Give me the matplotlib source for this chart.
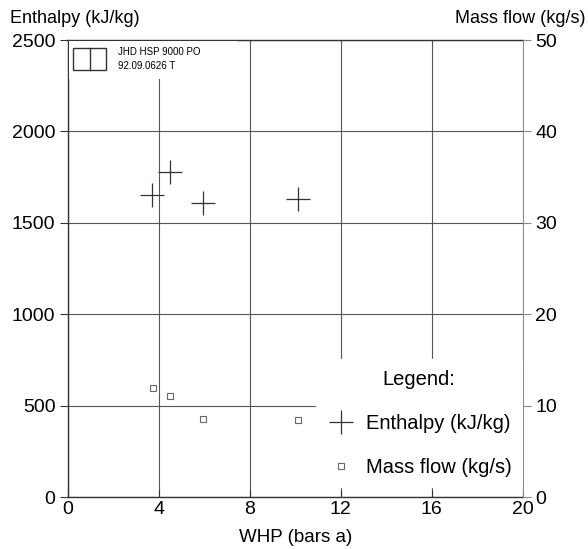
import matplotlib.pyplot as plt
from matplotlib.patches import Rectangle

plt.rcParams['font.family'] = ['Liberation Sans', 'DejaVu Sans']

# data
whp_h = [3.7, 4.5, 5.95, 10.1]
enthalpy = [1650, 1780, 1610, 1630]
whp_m = [3.75, 4.5, 5.95, 10.1]
mass_flow = [11.9, 11.0, 8.5, 8.4]

x_ticks = [0, 4, 8, 12, 16, 20]
h_ticks = [0, 500, 1000, 1500, 2000, 2500]
m_ticks = [0, 10, 20, 30, 40, 50]

fig = plt.figure(figsize=(5.88, 5.49), dpi=100)
ax = fig.add_axes([0.1156, 0.0947, 0.7735, 0.8323])
ax2 = ax.twinx()

ax.set_xlim(0, 20)
ax.set_ylim(0, 2500)
ax2.set_ylim(0, 50)
ax.set_xticks(x_ticks)
ax.set_yticks(h_ticks)
ax2.set_yticks(m_ticks)

for sp in ['left', 'bottom', 'top']:
    ax.spines[sp].set_color('#333333')
    ax.spines[sp].set_linewidth(1.0)
ax.spines['right'].set_visible(False)
for sp in ax2.spines.values():
    sp.set_visible(False)
ax2.spines['right'].set_visible(True)
ax2.spines['right'].set_color('#888888')
ax2.spines['right'].set_linewidth(0.7)
ax2.spines['right'].set_zorder(12)

ax.grid(True, color='#555555', linewidth=0.8)
ax.tick_params(axis='y', direction='out', length=6, labelsize=14, color='#333333', pad=3)
ax.tick_params(axis='x', direction='in', length=5, labelsize=14, color='#333333', pad=3)
ax2.tick_params(axis='y', direction='out', length=6, labelsize=14, color='#888888', pad=3)

h, = ax.plot(whp_h, enthalpy, linestyle='none', marker='+', markersize=17,
             markeredgewidth=0.9, color='#333333', label='Enthalpy (kJ/kg)')
m, = ax2.plot(whp_m, mass_flow, linestyle='none', marker='s', markersize=4.5,
              markerfacecolor='white', markeredgewidth=0.8, color='#666666',
              label='Mass flow (kg/s)')

ax.set_xlabel('WHP (bars a)', fontsize=13.5, labelpad=8)
fig.text(0.017, 0.967, 'Enthalpy (kJ/kg)', fontsize=13, ha='left', va='center')
fig.text(0.995, 0.967, 'Mass flow (kg/s)', fontsize=13, ha='right', va='center')

# logo box in top left corner
ax2.add_patch(Rectangle((0.002, 0.915), 0.37, 0.083, transform=ax2.transAxes,
                        facecolor='white', edgecolor='none', zorder=5))
ax2.add_patch(Rectangle((0.012, 0.935), 0.072, 0.048, transform=ax2.transAxes,
                        facecolor='white', edgecolor='#333333', linewidth=1.0, zorder=6))
ax2.plot([0.048, 0.048], [0.935, 0.983], transform=ax2.transAxes,
         color='#333333', linewidth=1.0, zorder=7)
ax2.text(0.11, 0.973, 'JHD HSP 9000 PO', transform=ax2.transAxes,
         fontsize=7, ha='left', va='center', zorder=7)
ax2.text(0.11, 0.943, '92.09.0626 T', transform=ax2.transAxes,
         fontsize=7, ha='left', va='center', zorder=7)

leg = ax2.legend(handles=[h, m], title='Legend:', loc='lower right',
                 bbox_to_anchor=(1.02, 0.0), fontsize=14.5, title_fontsize=14.5,
                 frameon=True, labelspacing=1.25, handletextpad=0.5,
                 borderpad=0.5, handlelength=1.5)
leg.get_frame().set_edgecolor('white')
leg.get_frame().set_facecolor('white')
leg.get_frame().set_alpha(1.0)
leg.set_zorder(10)

fig.savefig('out.png', dpi=100)
